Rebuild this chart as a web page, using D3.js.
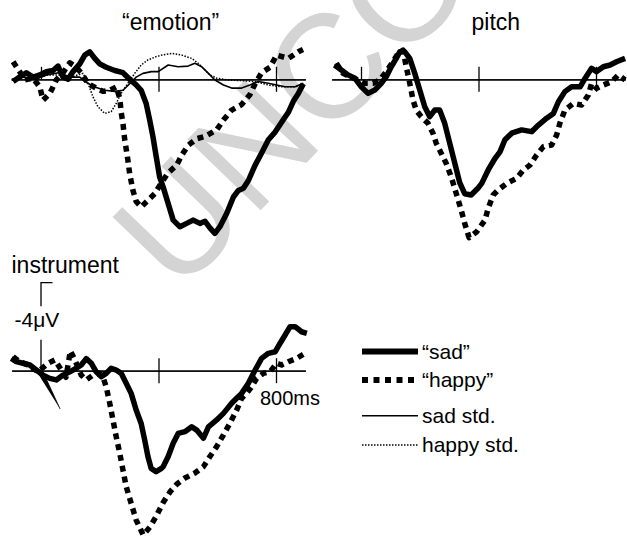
<!DOCTYPE html>
<html>
<head>
<meta charset="utf-8">
<script src="https://cdn.jsdelivr.net/npm/d3@7"></script>
<style>
  body { margin: 0; background: #fff; }
  svg { display: block; }
  text { font-family: "Liberation Sans", Arial, Helvetica, sans-serif; fill: #000; }
</style>
</head>
<body>
<svg id="chart" width="627" height="537"></svg>
<script>
// Grand-average ERP waveforms: [time in ms, amplitude in μV] (negative plotted up)
const emotionSad = [[-95,0.1],[-73,-0.1],[-50,-0.3],[-27,-0.1],[-4,-0.2],[18,-0.35],[41,-0.4],[58,-0.6],[75,-0.1],[92,0.0],[109,-0.35],[132,-0.7],[149,-1.1],[166,-1.25],[183,-0.95],[200,-0.7],[222,-0.55],[251,-0.4],[279,-0.3],[302,0.0],[324,0.25],[341,0.5],[358,1.1],[370,1.85],[381,2.6],[392,3.5],[404,4.45],[416,4.9],[433,5.65],[450,6.4],[473,6.7],[496,6.55],[518,6.4],[541,6.55],[558,6.45],[575,6.75],[592,7.0],[609,6.7],[632,6.1],[655,5.35],[672,5.05],[689,4.95],[706,4.6],[729,3.9],[751,3.35],[774,2.75],[797,2.4],[819,1.95],[842,1.5],[859,1.0],[876,0.65],[893,0.2]];
const emotionHappy = [[-95,-0.8],[-73,-0.35],[-55,0.03],[-27,-0.05],[-4,0.35],[7,0.95],[30,0.65],[52,0.03],[75,-0.3],[98,-0.75],[115,-0.6],[137,-0.3],[160,0.2],[188,0.4],[211,0.55],[234,0.5],[256,0.35],[268,0.85],[273,1.5],[279,2.0],[285,2.75],[294,3.5],[302,4.3],[313,5.05],[324,5.55],[341,5.8],[364,5.5],[387,5.2],[410,4.7],[433,4.25],[462,3.9],[479,3.45],[501,3.0],[530,2.7],[558,2.6],[598,2.3],[621,1.85],[649,1.4],[683,1.15],[711,0.7],[729,0.2],[751,-0.3],[780,-0.55],[802,-1.1],[842,-0.95],[876,-1.25],[892,-1.35]];
const emotionSadStd = [[-100,0.05],[-60,-0.1],[-20,0],[20,-0.2],[60,-0.3],[100,-0.1],[132,-0.1],[149,0.1],[183,0.35],[217,0.5],[251,0.55],[279,0.5],[302,0.2],[324,-0.1],[347,-0.27],[376,-0.35],[399,-0.35],[433,-0.65],[467,-0.57],[501,-0.6],[524,-0.73],[547,-0.57],[570,-0.27],[592,0.03],[621,0.26],[649,0.4],[683,0.4],[711,0.26],[740,0.1],[774,0.18],[802,0.26],[831,0.34],[865,0.34],[893,0.18]];
const emotionHappyStd = [[-100,0],[-60,-0.1],[-20,0],[20,-0.2],[60,-0.2],[100,-0.1],[143,-0.27],[160,0.18],[177,0.8],[194,1.25],[217,1.55],[239,1.47],[256,1.1],[273,0.64],[296,0.18],[319,-0.27],[341,-0.65],[364,-0.88],[392,-1.03],[411,-1.1],[445,-1.18],[479,-1.1],[513,-0.95],[535,-0.73],[558,-0.42],[575,-0.2],[598,-0.05],[638,0.03],[683,0.06],[729,0.1],[774,0.26],[819,0.34],[865,0.34],[893,0.26]];

const pitchSad = [[-90,-0.65],[-67,-0.42],[-44,-0.2],[-21,-0.05],[1,0.34],[24,0.64],[47,0.49],[69,0.18],[86,-0.12],[103,-0.57],[120,-0.95],[132,-1.25],[149,-1.25],[166,-0.95],[183,-0.27],[200,0.49],[217,1.25],[234,1.7],[251,1.4],[268,1.4],[285,2.0],[302,2.9],[319,3.8],[336,4.7],[353,5.2],[375,5.26],[398,4.95],[411,4.73],[433,4.12],[456,3.6],[473,3.3],[490,2.75],[513,2.45],[547,2.3],[581,2.38],[604,2.08],[632,1.77],[655,1.55],[672,1.02],[694,0.56],[717,0.34],[746,0.34],[763,-0.05],[785,-0.5],[802,-0.35],[825,-0.57],[848,-0.65],[870,-0.8],[899,-0.95]];
const pitchHappy = [[-84,-0.73],[-61,-0.27],[-38,-0.12],[-10,0.03],[13,0.18],[41,0.18],[64,0.03],[86,-0.35],[109,-0.8],[126,-1.18],[143,-1.33],[154,-0.57],[166,0.18],[177,0.94],[188,1.4],[205,1.7],[228,2.0],[245,2.45],[256,2.9],[273,3.36],[290,3.82],[307,4.43],[324,5.18],[341,5.94],[353,6.55],[368,7.2],[394,6.93],[422,6.4],[433,5.86],[450,5.26],[467,5.03],[496,4.73],[530,4.5],[553,4.12],[575,3.9],[598,3.44],[621,3.06],[649,2.99],[666,2.53],[677,2.0],[694,1.4],[723,1.09],[751,1.17],[774,0.71],[785,0.18],[802,0.41],[825,0.26],[853,0.11],[876,-0.2],[899,0.03]];

const instrumentSad = [[-101,-0.56],[-84,-0.41],[-61,-0.34],[-38,-0.26],[-16,-0.03],[7,0.2],[30,0.35],[52,0.42],[75,0.2],[98,0.05],[120,-0.11],[137,-0.26],[154,-0.55],[171,-0.34],[188,0.05],[205,0.27],[222,0.12],[239,-0.11],[256,-0.03],[273,0.12],[290,0.57],[307,1.03],[324,1.79],[341,2.4],[353,3.15],[364,3.9],[375,4.44],[392,4.59],[410,4.44],[416,4.36],[433,3.9],[450,3.3],[467,2.85],[490,2.77],[513,2.55],[530,2.7],[553,3.07],[570,2.55],[598,2.24],[621,1.94],[649,1.48],[666,1.25],[683,1.03],[706,0.57],[729,-0.03],[751,-0.56],[774,-0.79],[797,-0.86],[814,-1.25],[831,-1.62],[848,-2.0],[865,-2.0],[887,-1.77],[905,-1.7]];
const instrumentHappy = [[-95,-0.64],[-73,-0.41],[-44,-0.26],[-10,0.05],[24,-0.34],[47,-0.49],[69,-0.03],[85,0.3],[100,-0.9],[115,-0.5],[137,0.2],[154,0.42],[177,0.2],[200,0.12],[211,0.3],[222,0.73],[234,1.48],[245,2.24],[256,3.0],[268,3.75],[279,4.51],[290,5.27],[307,6.03],[324,6.79],[348,7.47],[371,7.1],[391,6.65],[415,6.01],[439,5.51],[463,5.15],[490,4.88],[524,4.65],[553,4.36],[575,3.9],[598,3.45],[621,2.92],[643,2.39],[666,1.79],[683,1.25],[700,1.03],[717,0.73],[734,0.35],[757,0.12],[780,0.05],[802,-0.34],[819,-0.26],[842,-0.41],[870,-0.56],[899,-0.79]];
// stimulus artifact wedge on the instrument trace
const instrumentArtifact = [[-20,-0.08],[7,0.06],[65,1.74]];

const panelTitles = ["“emotion”", "pitch", "instrument"];
const tickTimes = [0, 400, 800];
const timeExtent = [-100, 900];
const calibration = -4;             // μV
const calibrationLabel = "-4μV";
const timeLabel = "800ms";
const legendLabels = ["“sad”", "“happy”", "sad std.", "happy std."];
const watermarkText = "UNCORRECTED PROOF";

// ---------------------------------------------------------------
const svg = d3.select("#chart");
const PX_PER_MS = 0.29375;
const PX_PER_UV = 22;

const lineStyles = {
  sad:      { width: 5.5, dash: null },
  happy:    { width: 5.5, dash: "6,5" },
  sadStd:   { width: 1.6, dash: null },
  happyStd: { width: 1.5, dash: "1.5,1.5" }
};

function scales(zeroX, zeroY) {
  const x = d3.scaleLinear().domain(timeExtent)
    .range([zeroX + timeExtent[0] * PX_PER_MS, zeroX + timeExtent[1] * PX_PER_MS]);
  const y = d3.scaleLinear().domain([0, 4]).range([zeroY, zeroY + 4 * PX_PER_UV]);
  return { x, y };
}

// watermark behind everything
svg.append("text")
  .attr("transform", "translate(178,296) rotate(-46)")
  .attr("font-size", 148)
  .style("fill", "#d4d4d4")
  .text(watermarkText);

function drawPanel(sc, series, opts) {
  const g = svg.append("g");
  // time axis crossing the baseline
  const top = d3.axisTop(sc.x).tickValues(opts.zeroTick ? tickTimes : tickTimes.slice(1))
    .tickSize(12.5).tickSizeOuter(0).tickFormat("");
  const bottom = d3.axisBottom(sc.x).tickValues(tickTimes.slice(1))
    .tickSize(12.5).tickSizeOuter(0).tickFormat("");
  [top, bottom].forEach(ax => {
    const a = g.append("g").attr("transform", `translate(0,${sc.y(0)})`).call(ax);
    a.selectAll("path,line").attr("stroke", "#000").attr("stroke-width", 1.3);
  });

  const line = d3.line().x(d => sc.x(d[0])).y(d => sc.y(d[1]));
  series.forEach(s => {
    const st = lineStyles[s.style];
    g.append("path")
      .datum(s.data)
      .attr("d", line)
      .attr("fill", "none")
      .attr("stroke", "#000")
      .attr("stroke-width", st.width)
      .attr("stroke-linejoin", "round")
      .attr("stroke-dasharray", st.dash);
  });
  return g;
}

// "emotion"
const scEmotion = scales(41, 79.3);
drawPanel(scEmotion, [
  { data: emotionHappyStd, style: "happyStd" },
  { data: emotionSadStd, style: "sadStd" },
  { data: emotionHappy, style: "happy" },
  { data: emotionSad, style: "sad" }
], { zeroTick: true });
svg.append("text").attr("x", 122).attr("y", 30).attr("font-size", 23).text(panelTitles[0]);

// pitch
const scPitch = scales(361, 79.3);
drawPanel(scPitch, [
  { data: pitchHappy, style: "happy" },
  { data: pitchSad, style: "sad" }
], { zeroTick: true });
svg.append("text").attr("x", 471.5).attr("y", 29.5).attr("font-size", 23).text(panelTitles[1]);

// instrument
const scInst = scales(41, 370.7);
const gInst = drawPanel(scInst, [
  { data: instrumentHappy, style: "happy" },
  { data: instrumentSad, style: "sad" }
], { zeroTick: false });
gInst.append("path")
  .datum(instrumentArtifact)
  .attr("d", d3.line().x(d => scInst.x(d[0])).y(d => scInst.y(d[1])))
  .attr("fill", "#000").attr("stroke", "#000").attr("stroke-width", 0.8);
svg.append("text").attr("x", 11.5).attr("y", 272.5).attr("font-size", 23).text(panelTitles[2]);

// calibration bar: -4 μV, broken around its label
const cx = scInst.x(0), cTop = scInst.y(calibration);
const cal = svg.append("g").attr("stroke", "#000").attr("stroke-width", 1.3).attr("fill", "none");
cal.append("path").attr("d", `M${cx + 11.5},${cTop}H${cx}V${cTop + 23.5}`);
cal.append("path").attr("d", `M${cx},${cTop + 57}V${scInst.y(0)}`);
svg.append("text").attr("x", 14.5).attr("y", cTop + 44.5).attr("font-size", 21).text(calibrationLabel);
svg.append("text").attr("x", 260).attr("y", scInst.y(0) + 34).attr("font-size", 20).text(timeLabel);

// legend
const legendStyles = ["sad", "happy", "sadStd", "happyStd"];
const legendRows = [351.5, 380, 415.7, 445];
legendLabels.forEach((lab, i) => {
  const st = lineStyles[legendStyles[i]];
  const w = i < 2 ? 6 : st.width;
  svg.append("line")
    .attr("x1", 362).attr("x2", 418)
    .attr("y1", legendRows[i]).attr("y2", legendRows[i])
    .attr("stroke", "#000").attr("stroke-width", w)
    .attr("stroke-dasharray", i === 1 ? "6,5.5" : st.dash);
  svg.append("text").attr("x", 422).attr("y", legendRows[i] + 7).attr("font-size", 21).text(lab);
});
</script>
</body>
</html>
